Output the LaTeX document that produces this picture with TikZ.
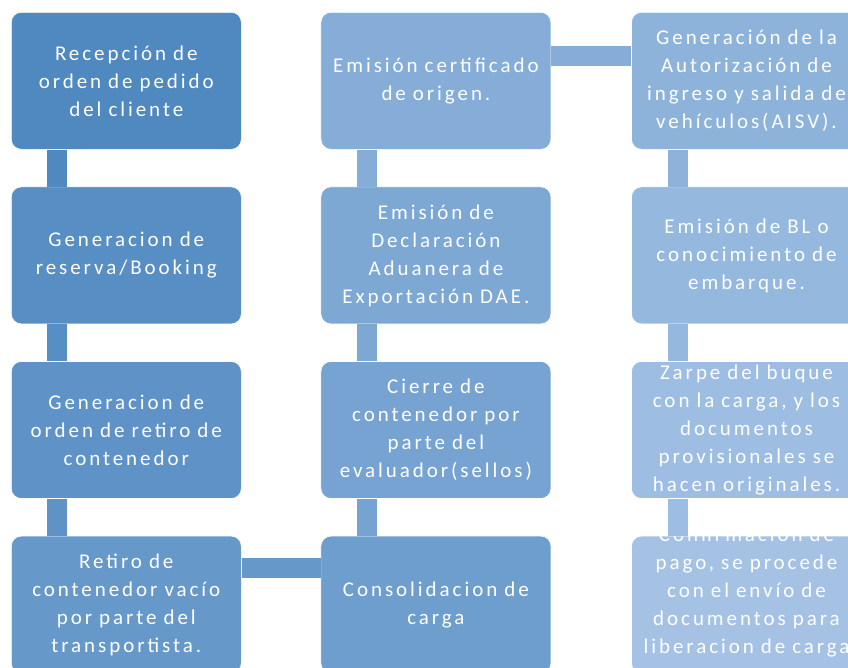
\documentclass[tikz,border=0pt]{standalone}
\usepackage{fontspec}
\setmainfont{Carlito}[LetterSpace=14]
\usepackage{tikz}
\usetikzlibrary{positioning}

\definecolor{c1}{RGB}{79,137,192}
\definecolor{c2}{RGB}{87,142,195}
\definecolor{c3}{RGB}{95,147,199}
\definecolor{c4}{RGB}{102,153,202}
\definecolor{c5}{RGB}{110,158,205}
\definecolor{c6}{RGB}{118,163,209}
\definecolor{c7}{RGB}{126,168,212}
\definecolor{c8}{RGB}{134,173,216}
\definecolor{c9}{RGB}{142,179,219}
\definecolor{c10}{RGB}{149,184,222}
\definecolor{c11}{RGB}{157,189,226}
\definecolor{c12}{RGB}{165,194,229}

\tikzset{
  paso/.style={rectangle, rounded corners=10pt, draw=white, line width=0.6pt,
    minimum width=230pt, minimum height=137pt, inner sep=0pt,
    text width=226pt, align=center, text=white,
    font=\fontsize{21}{28}\selectfont},
  enlace/.style={line width=20pt, line cap=butt}
}

\begin{document}
\begin{tikzpicture}[x=1pt,y=-1pt]
    \useasboundingbox (0,0) rectangle (848,667);
    \node[paso,fill=c1,anchor=north west] (s1) at (11,12) {Recepción de\\orden de pedido\\del cliente};
    \node[paso,fill=c2,below = 37pt of s1] (s2) {Generacion de\\reserva/Booking};
    \node[paso,fill=c3,below = 37pt of s2] (s3) {Generacion de\\orden de retiro de\\contenedor};
    \node[paso,fill=c4,below = 37pt of s3] (s4) {Retiro de\\contenedor vacío\\por parte del\\transportista.};
    \node[paso,fill=c5,right = 79pt of s4] (s5) {Consolidacion de\\carga};
    \node[paso,fill=c6,above = 37pt of s5] (s6) {Cierre de\\contenedor por\\parte del\\evaluador(sellos)};
    \node[paso,fill=c7,above = 37pt of s6] (s7) {Emisión de\\Declaración\\Aduanera de\\Exportación DAE.};
    \node[paso,fill=c8,above = 37pt of s7] (s8) {Emisión certificado\\de origen.};
    \node[paso,fill=c9,right = 80pt of s8] (s9) {Generación de la\\Autorización de\\ingreso y salida de\\vehículos(AISV).};
    \node[paso,fill=c10,below = 37pt of s9] (s10) {Emisión de BL o\\conocimiento de\\embarque.};
    \node[paso,fill=c11,below = 37pt of s10] (s11) {Zarpe del buque\\con la carga, y los\\documentos\\provisionales se\\hacen originales.};
    \node[paso,fill=c12,below = 37pt of s11,text height=5pt,text depth=132pt] (s12) {Confirmación de\\pago, se procede\\con el envío de\\documentos para\\liberacion de carga};
    % conectores
    \draw[enlace,c1] ([xshift=-69pt]s1.south) -- ([xshift=-69pt]s2.north);
    \draw[enlace,c2] ([xshift=-69pt]s2.south) -- ([xshift=-69pt]s3.north);
    \draw[enlace,c3] ([xshift=-69pt]s3.south) -- ([xshift=-69pt]s4.north);
    \draw[enlace,c4] ([yshift=37pt]s4.east) -- ([yshift=37pt]s5.west);
    \draw[enlace,c6] ([xshift=-69pt]s6.south) -- ([xshift=-69pt]s5.north);
    \draw[enlace,c7] ([xshift=-69pt]s7.south) -- ([xshift=-69pt]s6.north);
    \draw[enlace,c8] ([xshift=-69pt]s8.south) -- ([xshift=-69pt]s7.north);
    \draw[enlace,c8] ([yshift=25pt]s8.east) -- ([yshift=25pt]s9.west);
    \draw[enlace,c9] ([xshift=-69pt]s9.south) -- ([xshift=-69pt]s10.north);
    \draw[enlace,c10] ([xshift=-69pt]s10.south) -- ([xshift=-69pt]s11.north);
    \draw[enlace,c11] ([xshift=-69pt]s11.south) -- ([xshift=-69pt]s12.north);
\end{tikzpicture}
\end{document}
